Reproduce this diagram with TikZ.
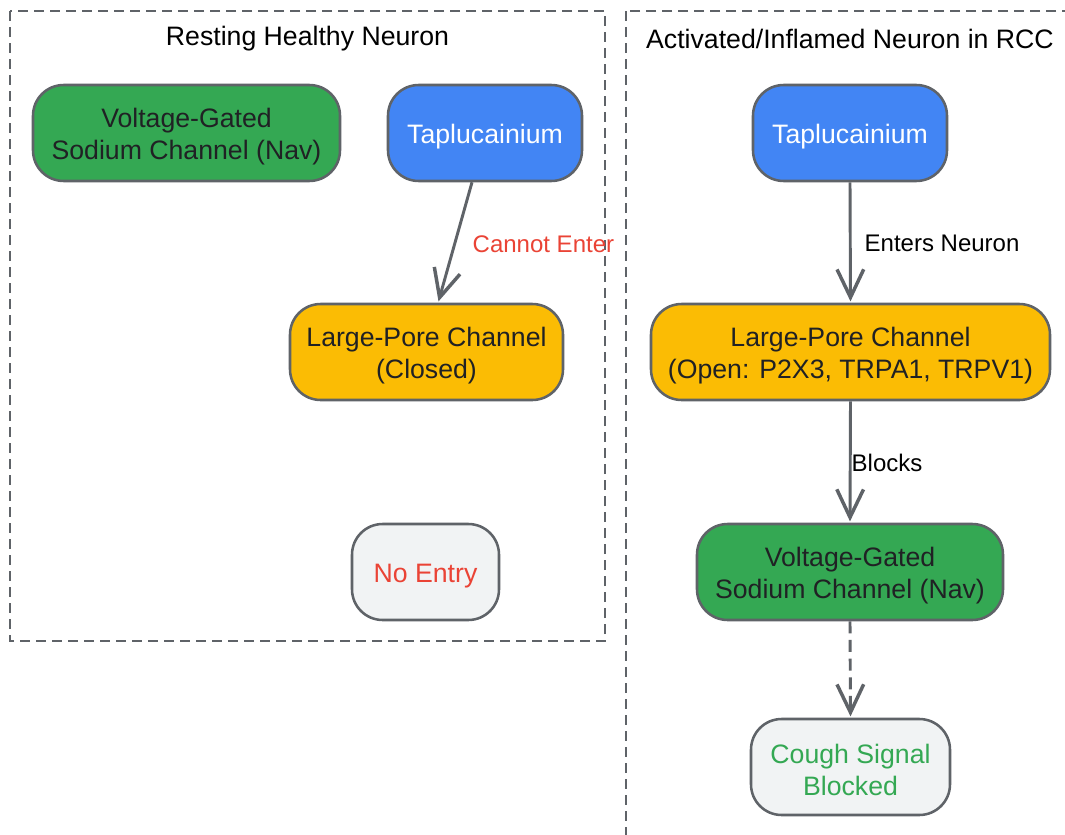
\documentclass[tikz,border=0pt]{standalone}
\usepackage{fontspec}
\setmainfont{Liberation Sans}
\usetikzlibrary{arrows.meta}
\definecolor{gGreen}{HTML}{34A853}
\definecolor{gBlue}{HTML}{4285F4}
\definecolor{gYellow}{HTML}{FBBC04}
\definecolor{gGrey}{HTML}{F1F3F4}
\definecolor{gStroke}{HTML}{5F6368}
\definecolor{gRed}{HTML}{EA4335}
\definecolor{gText}{HTML}{202124}
\newcommand{\tstrut}{\rule{0pt}{19.5pt}}
\tikzset{
  box/.style={draw=gStroke, line width=1.9pt, rounded corners=23pt, align=center,
    inner sep=0pt, minimum height=72pt, font=\fontsize{20pt}{24pt}\selectfont},
  cluster/.style={draw=gStroke, line width=1.5pt, dash pattern=on 7.5pt off 4.5pt},
  title/.style={font=\fontsize{20pt}{24pt}\selectfont, text=black, inner sep=0pt},
  elabel/.style={font=\fontsize{18pt}{22pt}\selectfont, inner sep=0pt, anchor=west, yshift=-1.5pt},
  conn/.style={draw=gStroke, line width=2.2pt,
    -{Straight Barb[length=21pt,width=20pt,line width=2.6pt]}},
}
\begin{document}
\begin{tikzpicture}[x=0.75pt,y=-0.75pt]
\clip (0,0) rectangle (1065,835);
\fill[white] (0,0) rectangle (1065,835);
% clusters
\draw[cluster] (10,11) rectangle (605,641);
\draw[cluster] (626,11) rectangle (1120,900);
\node[title] (t1) at (307.5,39) {Resting Healthy Neuron};
\node[title] (t2) at (850,39) {Activated/Inflamed Neuron in RCC};
% left nodes
\node[box, fill=gGreen, text=gText, minimum width=230.25pt] (navL) at (186.5,133) {\tstrut Voltage-Gated\\Sodium Channel (Nav)};
\node[box, fill=gBlue, text=white, minimum width=145.5pt] (tapL) at (485,133) {\tstrut Taplucainium};
\node[box, fill=gYellow, text=gText, minimum width=204.75pt] (lpcL) at (426.5,352) {\tstrut Large-Pore Channel\\(Closed)};
\node[box, fill=gGrey, text=gRed, minimum width=110.25pt] (noE) at (425.5,572) {\tstrut No Entry};
% right nodes
\node[box, fill=gBlue, text=white, minimum width=145.5pt] (tapR) at (850,133) {\tstrut Taplucainium};
\node[box, fill=gYellow, text=gText, minimum width=299.25pt] (lpcR) at (850.5,352) {\tstrut Large-Pore Channel\\(Open: P2X3, TRPA1, TRPV1)};
\node[box, fill=gGreen, text=gText, minimum width=229.5pt] (navR) at (850,572) {\tstrut Voltage-Gated\\Sodium Channel (Nav)};
\node[box, fill=gGrey, text=gGreen, minimum width=149.25pt] (cough) at (850.5,767) {\tstrut Cough Signal\\Blocked};
% connectors
\draw[conn] ([xshift=-9.75pt]tapL.south) -- ([xshift=9pt,yshift=1pt]lpcL.north)
  node[midway, elabel, text=gRed, xshift=12pt] {Cannot Enter};
\draw[conn] (tapR.south) -- ([yshift=1pt]lpcR.north)
  node[midway, elabel, text=black, xshift=9.75pt] {Enters Neuron};
\draw[conn] (lpcR.south) -- ([yshift=1pt]navR.north)
  node[midway, elabel, text=black, xshift=0pt] {Blocks};
\draw[conn, dash pattern=on 9pt off 5pt] (navR.south) -- ([yshift=1pt]cough.north);
\end{tikzpicture}
\end{document}
